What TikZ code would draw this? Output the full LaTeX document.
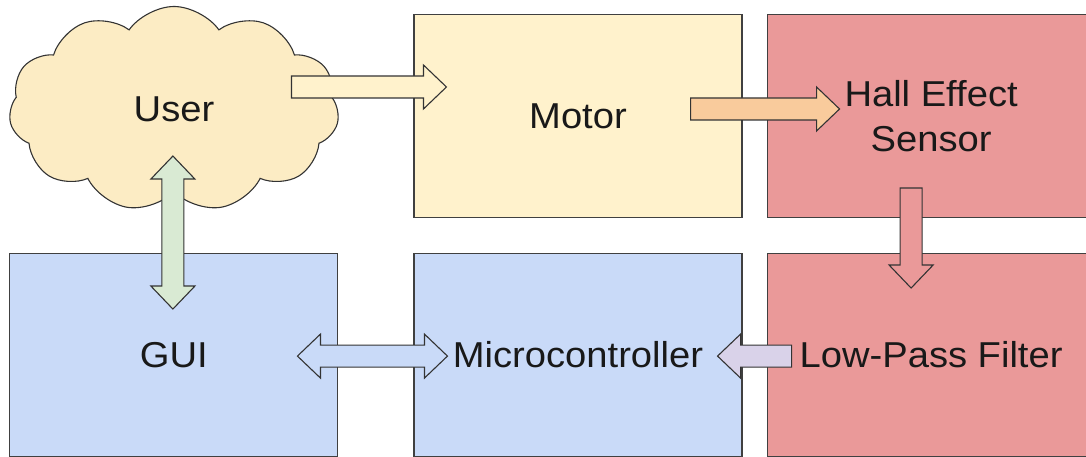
\documentclass[tikz,border=0pt]{standalone}
\usepackage{fontspec}
\setmainfont{Liberation Sans}[FakeStretch=1.06]
\usepackage{tikz}
\usetikzlibrary{shapes,arrows,positioning,calc}
\usepackage{xcolor}
\definecolor{motorfill}{RGB}{255,242,204}
\definecolor{userfill}{RGB}{252,236,196}
\definecolor{sensorfill}{RGB}{234,153,153}
\definecolor{ctrlfill}{RGB}{201,218,248}
\definecolor{orangefill}{RGB}{249,203,156}
\definecolor{lilacfill}{RGB}{217,210,233}
\definecolor{greenfill}{RGB}{217,234,211}
\tikzset{
blockbox/.style={rectangle,draw=black!75,line width=1.1pt,minimum width=328pt,
  minimum height=203pt,align=center,text=black!90,font=\fontsize{36}{45}\selectfont},
userbox/.style={cloud,cloud puffs=11,cloud puff arc=110,cloud ignores aspect,
  draw=black!80,line width=1.1pt,fill=userfill,minimum width=330pt,minimum height=205pt,
  text=black!90,font=\fontsize{36}{45}\selectfont},
blockarr/.style={draw=black!80,line width=1.1pt,line join=miter,
  to path={let \p1=(\tikztostart),\p2=(\tikztotarget),
    \n1={atan2(\y2-\y1,\x2-\x1)},\n2={veclen(\x2-\x1,\y2-\y1)} in
    ($(\p1)+(\n1+90:11)$) -- ($(\p1)+(\n1:{\n2-23})+(\n1+90:11)$)
    -- ($(\p1)+(\n1:{\n2-23})+(\n1+90:22)$) -- (\p2)
    -- ($(\p1)+(\n1:{\n2-23})+(\n1-90:22)$)
    -- ($(\p1)+(\n1:{\n2-23})+(\n1-90:11)$)
    -- ($(\p1)+(\n1-90:11)$) -- cycle}},
dblarr/.style={draw=black!80,line width=1.1pt,line join=miter,
  to path={let \p1=(\tikztostart),\p2=(\tikztotarget),
    \n1={atan2(\y2-\y1,\x2-\x1)},\n2={veclen(\x2-\x1,\y2-\y1)} in
    (\p1) -- ($(\p1)+(\n1:23)+(\n1+90:22)$) -- ($(\p1)+(\n1:23)+(\n1+90:11)$)
    -- ($(\p1)+(\n1:{\n2-23})+(\n1+90:11)$) -- ($(\p1)+(\n1:{\n2-23})+(\n1+90:22)$)
    -- (\p2) -- ($(\p1)+(\n1:{\n2-23})+(\n1-90:22)$)
    -- ($(\p1)+(\n1:{\n2-23})+(\n1-90:11)$)
    -- ($(\p1)+(\n1:23)+(\n1-90:11)$) -- ($(\p1)+(\n1:23)+(\n1-90:22)$) -- cycle}}
}
\begin{document}
\begin{tikzpicture}[x=1pt,y=1pt]
\clip (0,0) rectangle (1086,457);
\node[blockbox,fill=motorfill] (motor) at (578,341) {Motor};
\node[blockbox,fill=sensorfill,right=24pt of motor] (hall) {Hall Effect\\Sensor};
\node[blockbox,fill=ctrlfill,below=35pt of motor] (micro) {Microcontroller};
\node[blockbox,fill=sensorfill,right=24pt of micro] (lpf) {Low-Pass Filter};
\node[blockbox,fill=ctrlfill,left=75pt of micro] (gui) {GUI};
\node[userbox] (user) at (174,348) {User};

% arrow ends
\coordinate (userout) at ($(motor.west)+(-122,29)$);
\coordinate (motorin) at ($(motor.west)+(33,29)$);
\coordinate (motorout) at ($(motor.east)+(-52,7)$);
\coordinate (hallin) at ($(hall.west)+(73,7)$);
\coordinate (hallout) at ($(hall.south)+(-20,30)$);
\coordinate (lpfin) at ($(lpf.north)+(-20,-35)$);
\coordinate (lpfout) at ($(lpf.west)+(25,-1)$);
\coordinate (microin) at ($(micro.east)+(-25,-1)$);
\coordinate (guiend) at ($(gui.east)+(-41,-1)$);
\coordinate (microend) at ($(micro.west)+(34,-1)$);
\coordinate (userend) at ($(gui.north)+(-1,97)$);
\coordinate (guitop) at ($(gui.north)+(-1,-56)$);

\draw[blockarr,fill=motorfill] (userout) to (motorin);
\draw[blockarr,fill=orangefill] (motorout) to (hallin);
\draw[blockarr,fill=sensorfill] (hallout) to (lpfin);
\draw[blockarr,fill=lilacfill] (lpfout) to (microin);
\draw[dblarr,fill=ctrlfill] (guiend) to (microend);
\draw[dblarr,fill=greenfill] (userend) to (guitop);
\end{tikzpicture}
\end{document}
